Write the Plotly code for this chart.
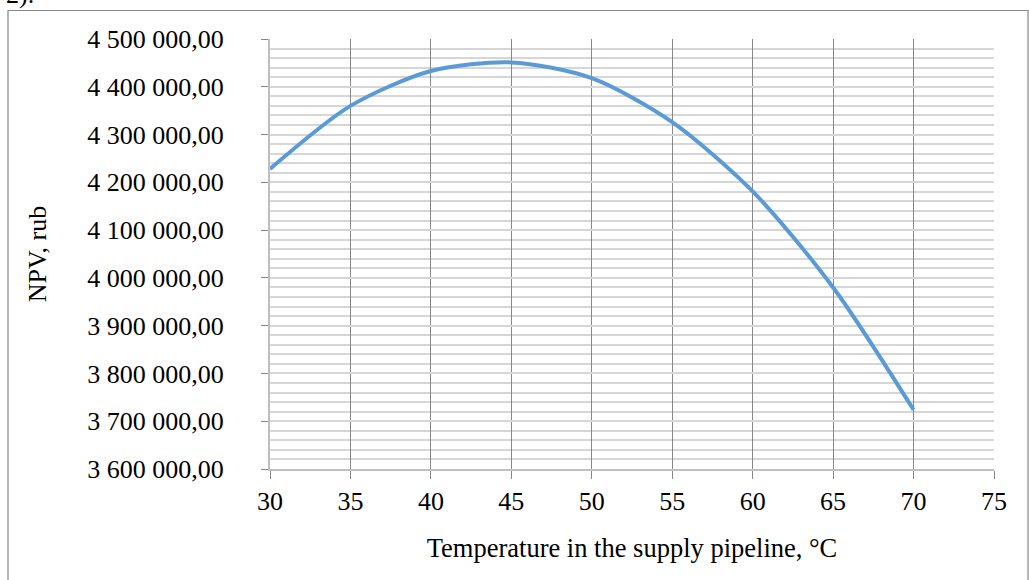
import plotly.graph_objects as go

temperature = [30, 35, 40, 45, 50, 55, 60, 65, 70]
npv = [4228000, 4360000, 4433000, 4451000, 4418000, 4326000, 4181000, 3980000, 3724000]

y_tick_vals = [3600000 + 100000 * i for i in range(10)]
y_tick_text = ["{:,}".format(v).replace(",", " ") + ",00" for v in y_tick_vals]
x_tick_vals = [30, 35, 40, 45, 50, 55, 60, 65, 70, 75]

W, H = 1029, 580
L, R, T, B = 270, 35, 39, 111
pw, ph = W - L - R, H - T - B

def px_x(p):
    return (p - L) / pw

def px_y(p):
    return (H - B - p) / ph

font_family = "Liberation Serif, Times New Roman, serif"

fig = go.Figure()
fig.add_trace(go.Scatter(
    x=temperature, y=npv, mode="lines",
    line=dict(color="#5b9bd5", width=4, shape="spline", smoothing=0.8),
    hoverinfo="skip", showlegend=False,
))

fig.update_layout(
    width=W, height=H,
    margin=dict(l=L, r=R, t=T, b=B, pad=0),
    paper_bgcolor="white", plot_bgcolor="white",
    font=dict(family=font_family, size=26, color="black"),
    xaxis=dict(
        range=[30, 75], tickvals=x_tick_vals, ticktext=[str(v) for v in x_tick_vals],
        showgrid=True, gridcolor="#878787", gridwidth=1.3,
        showline=True, linecolor="#bfbfbf", linewidth=2,
        ticks="outside", ticklen=8, tickcolor="#878787", tickwidth=1.3,
        tickfont=dict(size=26), zeroline=False,
        title=dict(text="Temperature in the supply pipeline, °C", font=dict(size=26.5), standoff=23),
    ),
    yaxis=dict(
        range=[3600000, 4500000], tickvals=y_tick_vals, ticktext=y_tick_text,
        showgrid=True, gridcolor="#d6d6d6", gridwidth=2,
        minor=dict(dtick=20000, showgrid=True, gridcolor="#d6d6d6", gridwidth=2, ticks=""),
        showline=True, linecolor="#bfbfbf", linewidth=2,
        ticks="outside", ticklen=7, tickcolor="#878787", tickwidth=1.3,
        tickfont=dict(size=26), zeroline=False, ticklabelstandoff=32,
        title=dict(text="NPV, rub", font=dict(size=26), standoff=33),
    ),
    shapes=[dict(
        type="rect", xref="paper", yref="paper", layer="below",
        x0=px_x(8), x1=px_x(1028), y0=px_y(600), y1=px_y(10.5),
        line=dict(color="#878787", width=1.2), fillcolor="rgba(0,0,0,0)",
    )],
    annotations=[dict(
        text="2).", xref="paper", yref="paper", x=px_x(4), y=px_y(-6),
        xanchor="left", yanchor="middle", showarrow=False,
        font=dict(size=26, family=font_family, color="black"),
    )],
)

fig.write_html("out.html", config={"displayModeBar": False},
               post_script="document.body.style.margin='0';")
